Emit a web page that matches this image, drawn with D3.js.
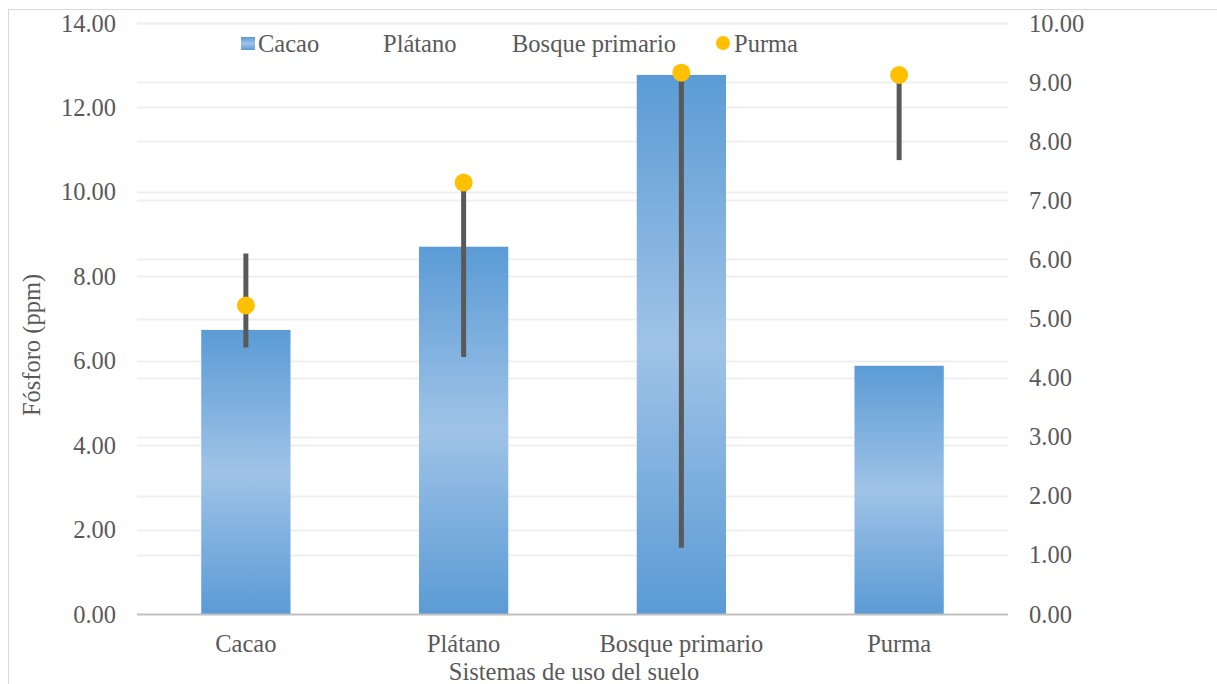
<!DOCTYPE html>
<html><head><meta charset="utf-8">
<script src="https://cdn.jsdelivr.net/npm/d3@7"></script>
<style>body{margin:0;background:#fff}svg{display:block}</style>
</head><body>
<svg id="c" width="1217" height="684"></svg>
<script>
const categories = ["Cacao","Plátano","Bosque primario","Purma"];
const barValues = [6.73, 8.70, 12.77, 5.88];          // left axis (Fósforo ppm)
const pointValues = [5.22, 7.30, 9.16, 9.12];          // right axis (Purma series)
const lineHigh = [6.10, 7.30, 9.16, 9.12];             // right axis
const lineLow = [4.51, 4.35, 1.12, 7.68];              // right axis
const leftTicks = [0,2,4,6,8,10,12,14];
const rightTicks = [0,1,2,3,4,5,6,7,8,9,10];
const legendLabels = ["Cacao","Plátano","Bosque primario","Purma"];

const FONT = "Liberation Serif";
const FS = 24.5;
const TXT = "#595959";

const svg = d3.select("#c");
const m = {l:137, r:1008, t:23, b:614};
const x = d3.scaleBand().domain(categories).range([m.l, m.r]).paddingInner(0.59).paddingOuter(0.295);
const yL = d3.scaleLinear().domain([0,14]).range([m.b, m.t]);
const yR = d3.scaleLinear().domain([0,10]).range([m.b, m.t]);

svg.append("rect").attr("x",8.5).attr("y",9.5).attr("width",1300).attr("height",800)
  .attr("fill","none").attr("stroke","#d9d9d9");

const defs = svg.append("defs");
const g = defs.append("linearGradient").attr("id","bg").attr("x1",0).attr("y1",0).attr("x2",0).attr("y2",1);
g.append("stop").attr("offset","0%").attr("stop-color","#5b9bd5");
g.append("stop").attr("offset","50%").attr("stop-color","#9fc3e7");
g.append("stop").attr("offset","100%").attr("stop-color","#5b9bd5");

const grid = svg.append("g");
leftTicks.slice(1).forEach(t=>grid.append("line").attr("x1",m.l).attr("x2",m.r).attr("y1",Math.round(yL(t))+0.5).attr("y2",Math.round(yL(t))+0.5).attr("stroke","#efefef").attr("stroke-width",2));
rightTicks.slice(1).forEach(t=>grid.append("line").attr("x1",m.l).attr("x2",m.r).attr("y1",Math.round(yR(t))+0.5).attr("y2",Math.round(yR(t))+0.5).attr("stroke","#efefef").attr("stroke-width",2));

function styleText(sel){ sel.attr("font-family",FONT).attr("font-size",FS).attr("fill",TXT); }

const axL = d3.axisLeft(yL).tickValues(leftTicks).tickFormat(d3.format(".2f")).tickSize(0).tickPadding(21);
const gL = svg.append("g").attr("transform",`translate(${m.l},0)`).call(axL);
gL.attr("font-family",FONT).attr("font-size",FS);
gL.select(".domain").remove();
gL.selectAll("text").call(styleText).attr("dy","0.33em");

const axR = d3.axisRight(yR).tickValues(rightTicks).tickFormat(d3.format(".2f")).tickSize(0).tickPadding(21);
const gR = svg.append("g").attr("transform",`translate(${m.r},0)`).call(axR);
gR.attr("font-family",FONT).attr("font-size",FS);
gR.select(".domain").remove();
gR.selectAll("text").call(styleText).attr("dy","0.33em");

svg.append("g").selectAll("rect").data(categories).join("rect")
  .attr("x",d=>x(d)).attr("width",x.bandwidth())
  .attr("y",(d,i)=>yL(barValues[i])).attr("height",(d,i)=>yL(0)-yL(barValues[i]))
  .attr("fill","url(#bg)");

svg.append("line").attr("x1",m.l).attr("x2",m.r).attr("y1",m.b+0.5).attr("y2",m.b+0.5).attr("stroke","#bfbfbf").attr("stroke-width",2);

const axX = d3.axisBottom(x).tickSize(0).tickPadding(21);
const gX = svg.append("g").attr("transform",`translate(0,${m.b})`).call(axX);
gX.attr("font-family",FONT).attr("font-size",FS);
gX.select(".domain").remove();
gX.selectAll("text").call(styleText);

svg.append("g").selectAll("line").data(categories).join("line")
  .attr("x1",d=>x(d)+x.bandwidth()/2).attr("x2",d=>x(d)+x.bandwidth()/2)
  .attr("y1",(d,i)=>yR(lineHigh[i])).attr("y2",(d,i)=>yR(lineLow[i]))
  .attr("stroke","#595959").attr("stroke-width",5);

svg.append("g").selectAll("circle").data(categories).join("circle")
  .attr("cx",d=>x(d)+x.bandwidth()/2).attr("cy",(d,i)=>yR(pointValues[i])).attr("r",9)
  .attr("fill","#ffc000");

svg.append("text").attr("transform","translate(40,345) rotate(-90)").attr("text-anchor","middle")
  .call(styleText).text("Fósforo (ppm)");
svg.append("text").attr("x",574).attr("y",680).attr("text-anchor","middle")
  .call(styleText).text("Sistemas de uso del suelo");

const lg = svg.append("g");
const lx = [258, 383, 512, 734];
legendLabels.forEach((l,i)=>{
  lg.append("text").attr("x",lx[i]).attr("y",52).call(styleText).text(l);
});
lg.append("rect").attr("x",241).attr("y",37).attr("width",14).attr("height",13).attr("fill","url(#bg)");
lg.append("circle").attr("cx",723).attr("cy",43).attr("r",7).attr("fill","#ffc000");
</script>
</body></html>
